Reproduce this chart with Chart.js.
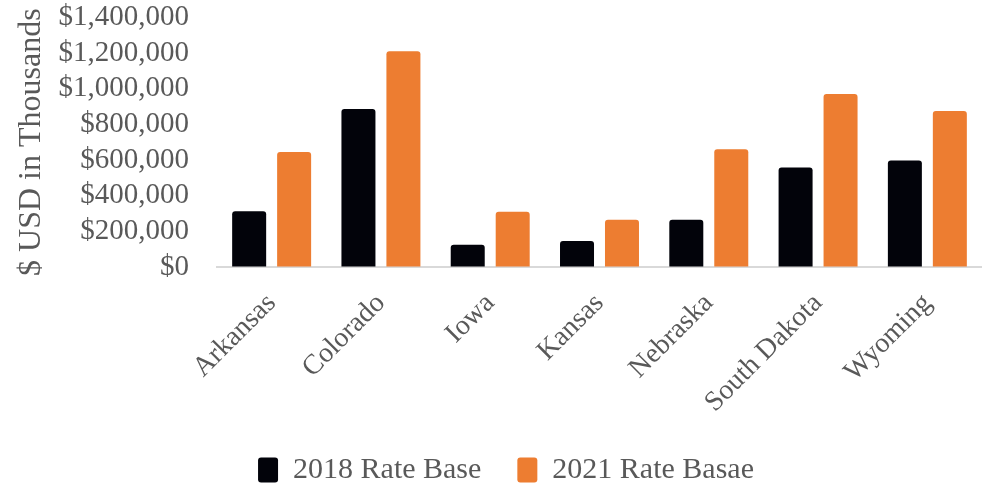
<!DOCTYPE html>
<html>
<head>
<meta charset="utf-8">
<script src="https://cdn.jsdelivr.net/npm/chart.js@4.4.0/dist/chart.umd.min.js"></script>
<style>
  html, body { margin: 0; padding: 0; background: #fff; }
  #wrap { width: 982px; height: 489px; }
</style>
</head>
<body>
<div id="wrap"><canvas id="rateBaseChart" width="982" height="489"></canvas></div>
<script>
// Rate base by state, 2018 vs 2021
var states = ['Arkansas', 'Colorado', 'Iowa', 'Kansas', 'Nebraska', 'South Dakota', 'Wyoming'];
var rateBase2018 = [312000, 886000, 125000, 146000, 265000, 558000, 597000];
var rateBase2021 = [645000, 1210000, 310000, 265000, 660000, 970000, 875000];
var yTicks = [0, 200000, 400000, 600000, 800000, 1000000, 1200000, 1400000];

var serif = "'Liberation Serif', 'DejaVu Serif', serif";
var grey = '#595959';

var ctx = document.getElementById('rateBaseChart').getContext('2d');
var rateBaseChart = new Chart(ctx, {
    type: 'bar',
    data: {
        labels: states,
        datasets: [{
            label: '2018 Rate Base',
            data: rateBase2018,
            backgroundColor: '#02030a',
            borderWidth: 0,
            borderRadius: 3,
            borderSkipped: 'bottom'
        },
        {
            label: '2021 Rate Basae',
            data: rateBase2021,
            backgroundColor: '#ED7D31',
            borderWidth: 0,
            borderRadius: 3,
            borderSkipped: 'bottom'
        }]
    },
    options: {
        responsive: false,
        animation: false,
        devicePixelRatio: 1,
        barPercentage: 0.756,
        categoryPercentage: 0.823,
        // left padding nudges the legend to the right, the y axis width makes up for it
        layout: { padding: { top: 0, right: 0, bottom: -6, left: 30 } },
        plugins: {
            tooltip: { enabled: false },
            legend: {
                position: 'bottom',
                labels: {
                    font: { family: serif, size: 30 },
                    color: grey,
                    boxWidth: 20,
                    boxHeight: 25,
                    padding: 36,
                    useBorderRadius: true,
                    borderRadius: 3
                }
            }
        },
        scales: {
            x: {
                z: 1,
                grid: { display: false, drawTicks: false },
                border: { display: true, color: '#d9d9d9', width: 2 },
                ticks: {
                    font: { family: serif, size: 28 },
                    color: grey,
                    minRotation: 45,
                    maxRotation: 45,
                    padding: 20,
                    autoSkip: false
                },
                afterFit: function (scale) { scale.height = 152; }
            },
            y: {
                min: 0,
                max: 1400000,
                afterBuildTicks: function (scale) {
                    scale.ticks = yTicks.map(function (v) { return { value: v }; });
                },
                // invisible tick marks give the gap between labels and plot
                grid: {
                    display: true,
                    drawOnChartArea: false,
                    drawTicks: true,
                    tickLength: 28,
                    color: 'rgba(0,0,0,0)'
                },
                border: { display: false },
                ticks: {
                    autoSkip: false,
                    font: { family: serif, size: 29 },
                    color: grey,
                    padding: 0,
                    callback: function (value) {
                        return '$' + value.toLocaleString('en-US');
                    }
                },
                title: {
                    display: true,
                    text: '$ USD in Thousands',
                    font: { family: serif, size: 32 },
                    color: grey,
                    padding: { top: -18, bottom: 0 }
                },
                afterFit: function (scale) { scale.width = 187; }
            }
        }
    }
});
</script>
</body>
</html>
